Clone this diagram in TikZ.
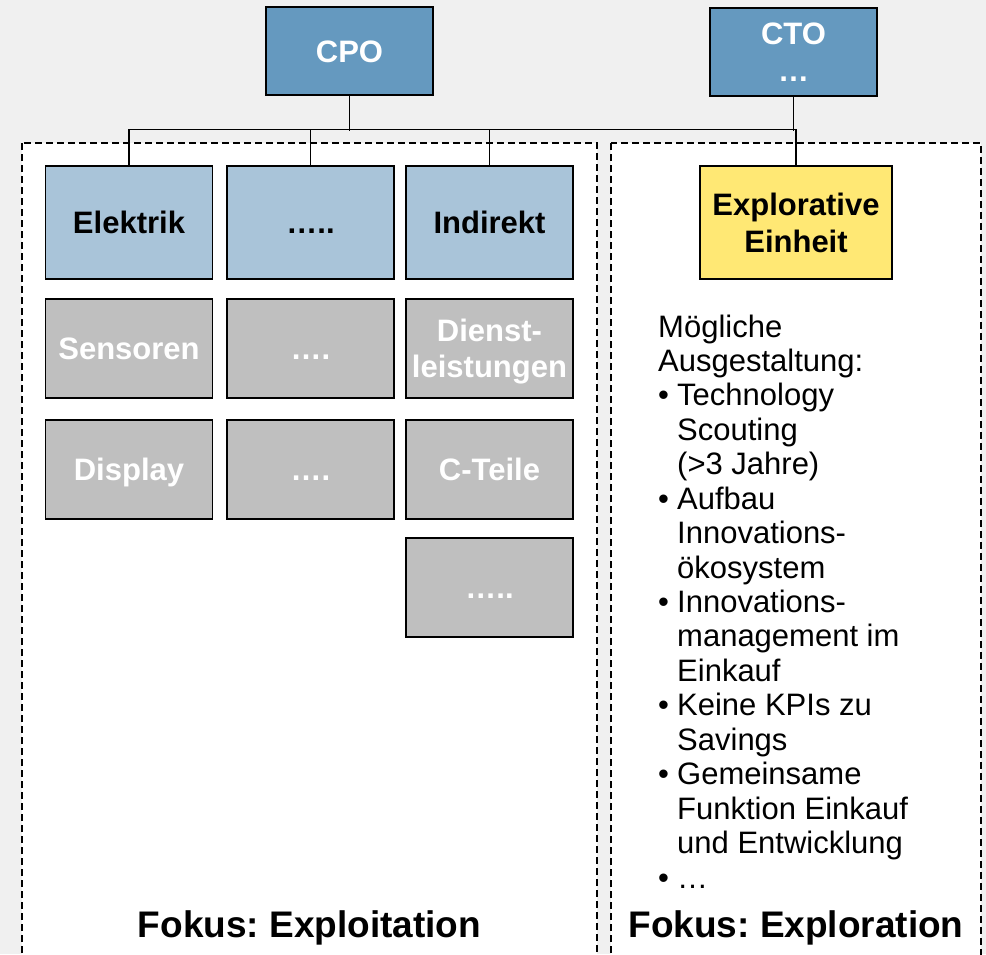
\documentclass[tikz,border=0pt]{standalone}
\usepackage{fontspec}
\setmainfont{Liberation Sans}
\AtBeginDocument{\frenchspacing}
\definecolor{cbg}{RGB}{240,240,240}
\definecolor{cdark}{RGB}{101,153,191}
\definecolor{clight}{RGB}{169,196,217}
\definecolor{cgray}{RGB}{191,191,191}
\definecolor{cyel}{RGB}{255,232,116}
\newcommand\mybul{\makebox[19pt][l]{•}}
\newcommand\myind{\hspace*{19pt}}
\begin{document}
\begin{tikzpicture}[x=1pt,y=-1pt,
  box/.style={draw=black, line width=1.6pt, inner sep=0pt, align=center,
    font=\fontsize{31}{37}\selectfont\bfseries\frenchspacing},
  one/.style={text height=22.5pt, text depth=0pt},
  dark/.style={box, fill=cdark, text=white, minimum width=167pt, minimum height=88pt},
  light/.style={box, fill=clight, text=black, minimum width=167pt, minimum height=113pt},
  grey/.style={box, fill=cgray, text=white, minimum width=167pt, minimum height=99pt},
  yel/.style={box, fill=cyel, text=black, minimum width=192pt, minimum height=113pt},
  panel/.style={draw=black, fill=white, line width=1.2pt, dash pattern=on 7pt off 4pt},
  conn/.style={draw=black, line width=1.2pt},
  fokus/.style={anchor=base, inner sep=0pt, font=\fontsize{37}{40}\selectfont\bfseries\frenchspacing}
]
\useasboundingbox (0,0) rectangle (986,954);
\clip (0,0) rectangle (986,954);
\fill[cbg] (0,0) rectangle (986,954);
% panels
\draw[panel] (22,143) rectangle (597,975);
\draw[panel] (611,143) rectangle (981,975);
% top boxes
\node[dark, one] (cpo) at (349.5,51) {CPO};
\node[dark] (cto) at (793.5,52) {CTO\\…};
% first row
\node[light, one] (elek) at (129,222.5) {Elektrik};
\node[light, one] (mid) at (310.5,222.5) {…..};
\node[light, one] (ind) at (489.5,222.5) {Indirekt};
\node[yel] (expl) at (796,222.5) {Explorative\\Einheit};
% gray rows
\node[grey, one] (sens) at (129,348.5) {Sensoren};
\node[grey, one] (m2) at (310.5,348.5) {….};
\node[grey, minimum height=99pt] (dienst) at (489.5,348.5) {};
\node[inner sep=0pt, align=center, text=white, font=\fontsize{31}{36}\selectfont\bfseries] (dienstlbl) at (489.5,351.5) {Dienst-\\leistungen};
\node[grey, one] (disp) at (129,469.5) {Display};
\node[grey, one] (m3) at (310.5,469.5) {….};
\node[grey, one] (cteile) at (489.5,469.5) {C-Teile};
\node[grey, one] (r4) at (489.5,587.5) {…..};
% connectors
\draw[conn] (cpo.south) -- ++(0,35);
\draw[conn] (elek.north) -- ++(0,-36) -| (expl.north);
\draw[conn] (mid.north) -- ++(0,-36);
\draw[conn] (ind.north) -- ++(0,-36);
\draw[conn] (cto.south) -- ++(0,34);
% text in right panel
\node[anchor=base west, inner sep=0pt, font=\fontsize{31}{34.44}\selectfont] (txt) at (658,337)
{\parbox[t]{320pt}{Mögliche\\
Ausgestaltung:\\
\mybul Technology\\
\myind Scouting\\
\myind (>3 Jahre)\\
\mybul Aufbau\\
\myind Innovations-\\
\myind ökosystem\\
\mybul Innovations-\\
\myind management im\\
\myind Einkauf\\
\mybul Keine KPIs zu\\
\myind Savings\\
\mybul Gemeinsame\\
\myind Funktion Einkauf\\
\myind und Entwicklung\\
\mybul …}};
% focus labels
\node[fokus] (fl) at (309.5,937) {Fokus: Exploitation};
\node[fokus] (fr) at (796,937) {Fokus: Exploration};
\end{tikzpicture}
\end{document}
